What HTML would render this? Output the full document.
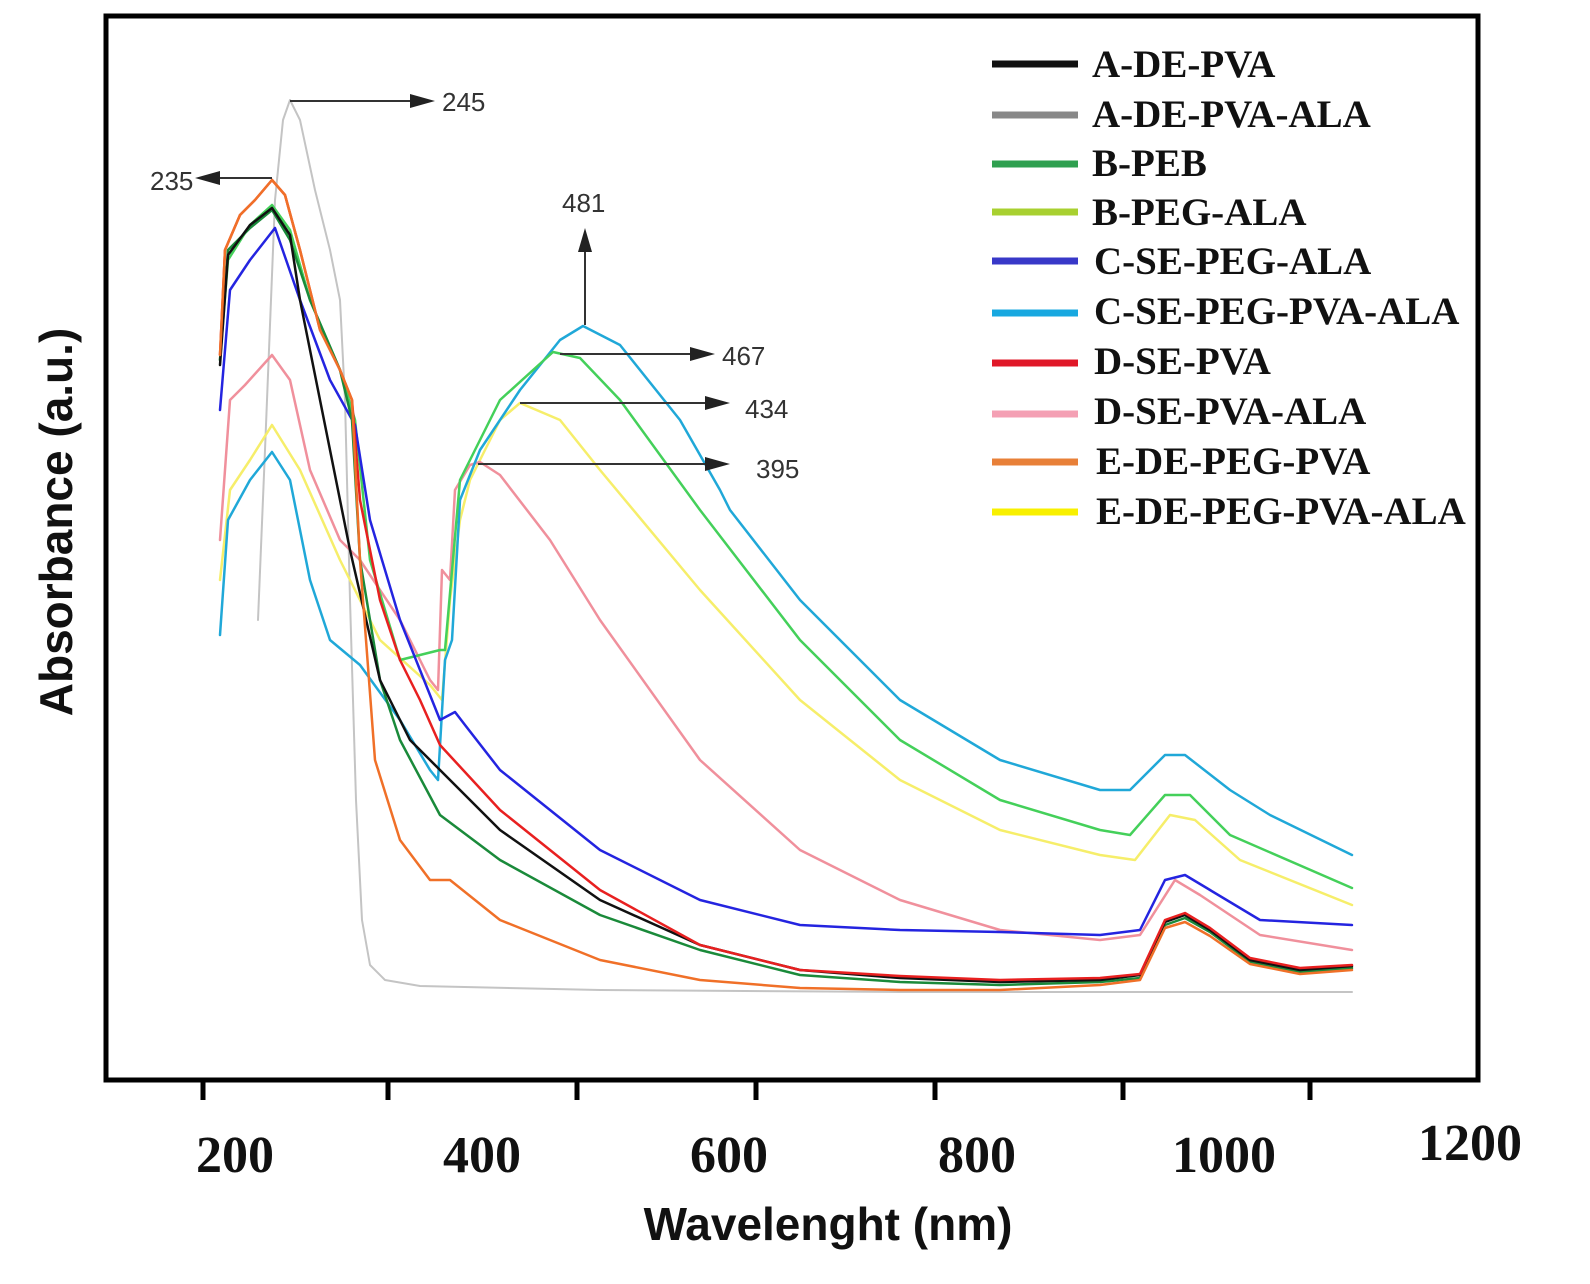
<!DOCTYPE html>
<html><head><meta charset="utf-8"><style>
body{margin:0;background:#fff}
svg{display:block}
</style></head><body>
<svg width="1590" height="1284" viewBox="0 0 1590 1284" xmlns="http://www.w3.org/2000/svg">
<rect width="1590" height="1284" fill="#fff"/>
<g fill="none" stroke-linejoin="round" stroke-linecap="round">
<!-- gray -->
<polyline stroke="#c4c4c4" stroke-width="2" points="258,620 265,450 275,200 283,120 290,100 300,120 315,190 330,250 340,300 345,400 350,600 356,800 362,920 370,965 385,980 420,986 600,990 900,992 1352,992"/>
<!-- yellow -->
<polyline stroke="#f6ee6a" stroke-width="2.5" points="220,580 230,490 250,460 272,425 300,470 340,560 380,640 430,685 442,700 450,600 460,520 470,480 500,420 520,403 560,420 600,470 700,590 800,700 900,780 1000,830 1100,855 1135,860 1170,815 1195,820 1240,860 1352,905"/>
<!-- pink -->
<polyline stroke="#f0909c" stroke-width="2.5" points="220,540 230,400 245,385 272,355 290,380 310,470 340,540 360,560 400,620 430,680 438,690 442,570 450,580 455,490 470,465 480,462 500,475 550,540 600,620 700,760 800,850 900,900 1000,930 1100,940 1140,935 1175,880 1200,895 1260,935 1352,950"/>
<!-- cyan -->
<polyline stroke="#20a8d8" stroke-width="2.5" points="220,635 228,520 250,480 272,452 290,480 310,580 330,640 360,665 400,720 430,770 438,780 445,660 452,640 460,500 480,450 520,390 560,340 583,326 620,345 680,420 720,490 730,510 800,600 900,700 1000,760 1100,790 1130,790 1165,755 1185,755 1230,790 1270,815 1352,855"/>
<!-- lime -->
<polyline stroke="#44d05a" stroke-width="2.5" points="220,360 228,260 250,225 272,205 290,230 310,300 340,370 355,420 370,560 400,660 440,650 445,650 460,480 500,400 553,352 580,358 620,400 700,510 800,640 900,740 1000,800 1100,830 1130,835 1165,795 1190,795 1230,835 1352,888"/>
<!-- blue -->
<polyline stroke="#2424e0" stroke-width="2.5" points="220,410 230,290 250,260 275,228 300,300 330,380 355,425 370,520 400,620 440,720 455,712 465,725 500,770 600,850 700,900 800,925 900,930 1000,932 1100,935 1140,930 1165,880 1185,875 1210,890 1260,920 1352,925"/>
<!-- green -->
<polyline stroke="#1a8a3a" stroke-width="2.5" points="220,360 228,250 250,228 272,210 290,240 310,300 340,370 352,420 360,560 380,680 400,740 440,815 500,860 600,915 700,950 800,975 900,982 1000,985 1100,982 1140,978 1165,925 1185,918 1210,932 1250,962 1300,972 1352,968"/>
<!-- black -->
<polyline stroke="#111" stroke-width="2.5" points="220,365 228,255 250,225 272,208 290,235 300,300 330,450 350,550 380,680 410,740 440,770 500,830 600,900 700,945 800,970 900,978 1000,982 1100,980 1140,975 1165,922 1185,915 1210,930 1250,960 1300,970 1352,966"/>
<!-- red -->
<polyline stroke="#e82020" stroke-width="2.5" points="220,355 225,250 240,215 255,200 272,180 285,195 300,250 320,330 340,370 352,400 360,500 380,600 400,660 420,700 440,745 500,810 600,890 700,945 800,970 900,976 1000,980 1100,978 1140,974 1165,920 1185,913 1210,928 1250,958 1300,968 1352,965"/>
<!-- orange -->
<polyline stroke="#f07028" stroke-width="2.5" points="220,355 225,250 240,215 255,200 272,180 285,195 300,250 320,330 340,370 352,400 360,560 375,760 400,840 430,880 450,880 500,920 600,960 700,980 800,988 900,990 1000,990 1100,985 1140,980 1165,928 1185,922 1210,936 1250,964 1300,974 1352,970"/>
</g>
<!-- annotations -->
<g stroke="#333" stroke-width="2" fill="#222">
<line x1="290" y1="101" x2="415" y2="101"/><polygon points="410,94 435,101 410,108" stroke="none"/>
<line x1="272" y1="178" x2="215" y2="178"/><polygon points="220,171 195,178 220,185" stroke="none"/>
<line x1="585" y1="325" x2="585" y2="248"/><polygon points="578,252 585,228 592,252" stroke="none"/>
<line x1="560" y1="354" x2="695" y2="354"/><polygon points="690,347 715,354 690,361" stroke="none"/>
<line x1="520" y1="403" x2="710" y2="403"/><polygon points="705,396 730,403 705,410" stroke="none"/>
<line x1="478" y1="464" x2="710" y2="464"/><polygon points="705,457 730,464 705,471" stroke="none"/>
</g>
<g font-family="Liberation Sans, sans-serif" font-size="26" fill="#333">
<text x="442" y="111">245</text><text x="150" y="190">235</text><text x="562" y="212">481</text>
<text x="722" y="365">467</text><text x="745" y="418">434</text><text x="756" y="478">395</text>
</g>
<!-- frame -->
<rect x="106" y="16" width="1372" height="1064" fill="none" stroke="#000" stroke-width="5"/>
<g stroke="#000" stroke-width="5">
<line x1="203" y1="1080" x2="203" y2="1100"/><line x1="388" y1="1080" x2="388" y2="1100"/>
<line x1="577" y1="1080" x2="577" y2="1100"/><line x1="756" y1="1080" x2="756" y2="1100"/>
<line x1="935" y1="1080" x2="935" y2="1100"/><line x1="1123" y1="1080" x2="1123" y2="1100"/>
<line x1="1310" y1="1080" x2="1310" y2="1100"/>
</g>
<g font-family="Liberation Serif, serif" font-weight="bold" font-size="52" fill="#111" text-anchor="middle">
<text x="235" y="1172">200</text><text x="482" y="1172">400</text><text x="729" y="1172">600</text>
<text x="977" y="1172">800</text><text x="1224" y="1172">1000</text><text x="1470" y="1160">1200</text>
</g>
<text x="828" y="1240" font-family="Liberation Sans, sans-serif" font-weight="bold" font-size="46" text-anchor="middle" fill="#111">Wavelenght (nm)</text>
<text transform="translate(72,522) rotate(-90)" font-family="Liberation Sans, sans-serif" font-weight="bold" font-size="46" text-anchor="middle" fill="#111">Absorbance (a.u.)</text>
<!-- legend -->
<g stroke-width="7">
<line x1="992" y1="64" x2="1078" y2="64" stroke="#111"/>
<line x1="992" y1="115" x2="1078" y2="115" stroke="#888"/>
<line x1="992" y1="164" x2="1078" y2="164" stroke="#2fa050"/>
<line x1="992" y1="212" x2="1078" y2="212" stroke="#a8d030"/>
<line x1="992" y1="261" x2="1078" y2="261" stroke="#3838c8"/>
<line x1="992" y1="313" x2="1078" y2="313" stroke="#18a8e0"/>
<line x1="992" y1="363" x2="1078" y2="363" stroke="#e01828"/>
<line x1="992" y1="414" x2="1078" y2="414" stroke="#f4a0b4"/>
<line x1="992" y1="462" x2="1078" y2="462" stroke="#e88038"/>
<line x1="992" y1="512" x2="1078" y2="512" stroke="#f8f000"/>
</g>
<g font-family="Liberation Serif, serif" font-weight="bold" font-size="39" fill="#111">
<text x="1092" y="77">A-DE-PVA</text>
<text x="1092" y="127">A-DE-PVA-ALA</text>
<text x="1092" y="176">B-PEB</text>
<text x="1092" y="225">B-PEG-ALA</text>
<text x="1094" y="274">C-SE-PEG-ALA</text>
<text x="1094" y="324">C-SE-PEG-PVA-ALA</text>
<text x="1094" y="374">D-SE-PVA</text>
<text x="1094" y="424">D-SE-PVA-ALA</text>
<text x="1096" y="474">E-DE-PEG-PVA</text>
<text x="1096" y="524">E-DE-PEG-PVA-ALA</text>
</g>
</svg>
</body></html>
